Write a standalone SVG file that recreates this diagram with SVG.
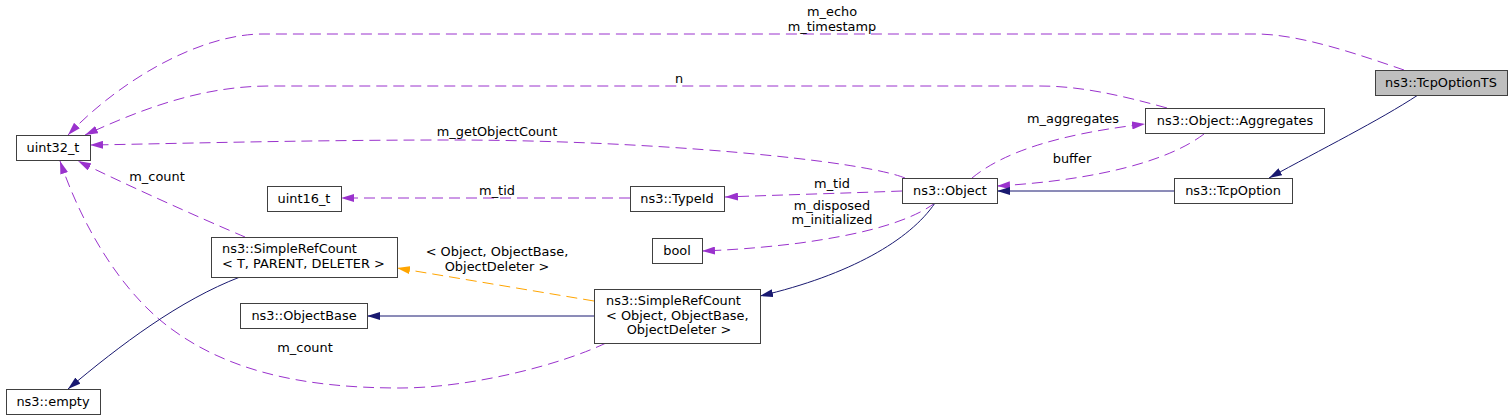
<svg xmlns="http://www.w3.org/2000/svg" width="1512" height="420" viewBox="0 0 1512 420">
<style>
text{font-family:"DejaVu Sans","Liberation Sans",sans-serif;font-size:12.9px;fill:#000}
.n rect{fill:#fff;stroke:#404040;stroke-width:1}
.n text{text-anchor:middle}
.n text.l{text-anchor:start}
.c path{fill:none;stroke-width:1}
.p{stroke:#9a32cd;stroke-dasharray:11,6;marker-end:url(#ap)}
.b{stroke:#191970;marker-end:url(#ab)}
.o{stroke:#ffa500;stroke-dasharray:11,6;marker-end:url(#ao)}
.lb{text-anchor:middle}
</style>
<defs>
<marker id="ap" viewBox="0 0 13 8" refX="13" refY="4" markerWidth="13" markerHeight="8" markerUnits="userSpaceOnUse" orient="auto"><path d="M0,0 L13,4 L0,8 z" fill="#9a32cd"/></marker>
<marker id="ab" viewBox="0 0 13 8" refX="13" refY="4" markerWidth="13" markerHeight="8" markerUnits="userSpaceOnUse" orient="auto"><path d="M0,0 L13,4 L0,8 z" fill="#191970"/></marker>
<marker id="ao" viewBox="0 0 13 8" refX="13" refY="4" markerWidth="13" markerHeight="8" markerUnits="userSpaceOnUse" orient="auto"><path d="M0,0 L13,4 L0,8 z" fill="#ffa500"/></marker>
</defs>
<rect x="0" y="0" width="1512" height="420" fill="#fff"/>
<g id="connectors" class="c">
<path class="p" d="M1404,70 C1360,55 1300,34 1256,34 L263,34 C200,34 120,80 68,135"/>
<path class="p" d="M1167,108 C1120,95 1080,86 1040,86 L270,86 C200,86 140,110 85,135"/>
<path class="p" d="M905,178 C860,160 650,140 450,140 C300,140 160,144 90,145"/>
<path class="p" d="M245,237 C200,218 120,182 78,161"/>
<path class="p" d="M606,343 C560,365 470,388 400,388 C300,388 220,370 160,320 C115,282 80,220 60,161"/>
<path class="p" d="M630,198 L341,198"/>
<path class="p" d="M902,191 C850,193 780,195 725,197"/>
<path class="p" d="M935,203 C905,225 850,236 800,243 C760,248 730,250 702,251"/>
<path class="b" d="M935,203 C910,240 850,275 760,296"/>
<path class="o" d="M594,301 L397,268"/>
<path class="b" d="M594,316 L367,316"/>
<path class="b" d="M240,277 C180,300 120,345 68,389"/>
<path class="p" d="M972,178 C1000,155 1050,135 1145,124"/>
<path class="p" d="M1204,134 C1170,160 1100,180 997,186"/>
<path class="b" d="M1174,191 L997,191"/>
<path class="b" d="M1418,95 C1380,120 1320,150 1269,178"/>
<text class="lb" x="832" y="16">m_echo</text>
<text class="lb" x="832" y="31">m_timestamp</text>
<text class="lb" x="679" y="83">n</text>
<text class="lb" x="497" y="136">m_getObjectCount</text>
<text class="lb" x="157" y="181">m_count</text>
<text class="lb" x="497" y="195">m_tid</text>
<text class="lb" x="832" y="188">m_tid</text>
<text class="lb" x="832" y="210">m_disposed</text>
<text class="lb" x="832" y="224">m_initialized</text>
<text class="lb" x="497" y="256">&lt; Object, ObjectBase,</text>
<text class="lb" x="497" y="271">ObjectDeleter &gt;</text>
<text class="lb" x="305" y="352">m_count</text>
<text class="lb" x="1073" y="123">m_aggregates</text>
<text class="lb" x="1072" y="163">buffer</text>
</g>
<g id="uint32_t" class="n"><rect x="16.5" y="135.5" width="74" height="25"/><text x="53" y="152">uint32_t</text></g>
<g id="uint16_t" class="n"><rect x="267.5" y="186.5" width="74" height="25"/><text x="304" y="203">uint16_t</text></g>
<g id="SimpleRefCountT" class="n"><rect x="211.5" y="237.5" width="186" height="40"/><text class="l" x="222" y="253">ns3::SimpleRefCount</text><text class="l" x="222" y="268">&lt; T, PARENT, DELETER &gt;</text></g>
<g id="ObjectBase" class="n"><rect x="240.5" y="303.5" width="127" height="25"/><text x="304" y="320">ns3::ObjectBase</text></g>
<g id="empty" class="n"><rect x="6.5" y="389.5" width="94" height="25"/><text x="53" y="406">ns3::empty</text></g>
<g id="TypeId" class="n"><rect x="630.5" y="186.5" width="94" height="25"/><text x="677" y="203">ns3::TypeId</text></g>
<g id="bool" class="n"><rect x="652.5" y="238.5" width="50" height="25"/><text x="677" y="255">bool</text></g>
<g id="SimpleRefCountObject" class="n"><rect x="594.5" y="289.5" width="166" height="54"/><text class="l" x="606" y="305">ns3::SimpleRefCount</text><text class="l" x="606" y="319.5">&lt; Object, ObjectBase,</text><text x="679" y="334">ObjectDeleter &gt;</text></g>
<g id="Object" class="n"><rect x="902.5" y="178.5" width="95" height="25"/><text x="950" y="195">ns3::Object</text></g>
<g id="TcpOption" class="n"><rect x="1174.5" y="178.5" width="118" height="25"/><text x="1233" y="195">ns3::TcpOption</text></g>
<g id="Aggregates" class="n"><rect x="1145.5" y="108.5" width="179" height="25"/><text x="1235" y="125">ns3::Object::Aggregates</text></g>
<g id="TcpOptionTS" class="n"><rect x="1375.5" y="70.5" width="132" height="25" style="fill:#bfbfbf"/><text x="1441" y="87">ns3::TcpOptionTS</text></g>
</svg>
